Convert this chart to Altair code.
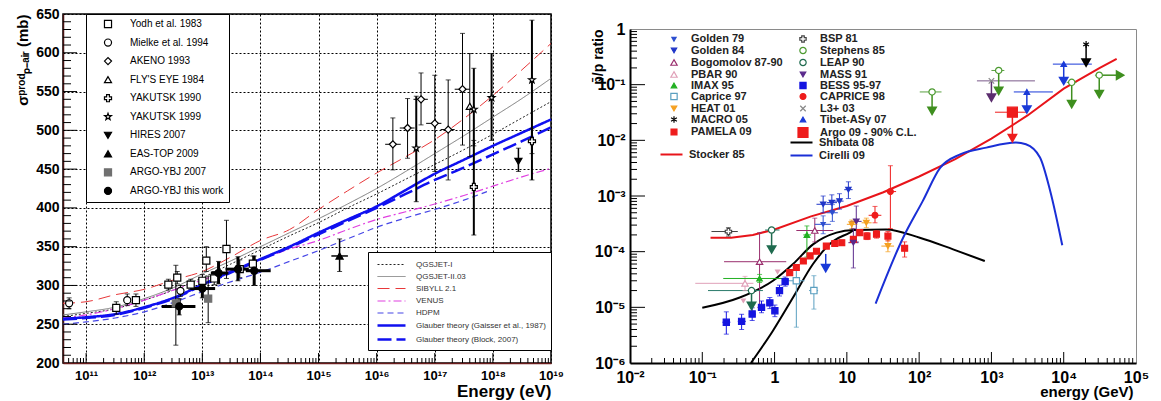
import altair as alt
import pandas as pd

FONT = "Liberation Sans"

# ======================= LEFT PANEL DATA =======================
L_experiments = ["Yodh et al. 1983", "Mielke et al. 1994", "AKENO 1993", "FLY'S EYE 1984",
                 "YAKUTSK 1990", "YAKUTSK 1999", "HIRES 2007", "EAS-TOP 2009",
                 "ARGO-YBJ 2007", "ARGO-YBJ this work"]
STAR = ("M0,-1L0.235,-0.324L0.951,-0.309L0.38,0.124L0.588,0.809L0,0.4L-0.588,0.809"
        "L-0.38,0.124L-0.951,-0.309L-0.235,-0.324Z")
L_shapes = ["square", "circle", "diamond", "triangle-up", "cross", STAR,
            "triangle-down", "triangle-up", "square", "circle"]
L_fills = ["white", "white", "white", "white", "white", "white",
           "black", "black", "#707070", "black"]
L_strokes = ["black", "black", "black", "black", "black", "black",
             "black", "black", "#707070", "black"]
L_errw = [1, 1, 1, 1, 2, 2, 1.5, 1.5, 1, 3]

yodh_E = [3.3e11, 7.2e11, 2.6e12, 3.7e12, 6.3e12, 1.0e13, 1.17e13, 1.6e13, 2.6e13, 4.4e13, 7.4e13]
yodh_s = [271, 281, 301, 310, 301, 306, 332, 309, 347, 321, 328]
yodh_lo = [263, 273, 294, 302, 295, 299, 318, 301, 309, 310, 318]
yodh_hi = [279, 289, 308, 318, 308, 314, 350, 318, 384, 333, 338]

mielke_E = [5.1e10, 5.1e11, 4.2e12]
mielke_s = [277, 281, 293]
mielke_lo = [270, 274, 286]
mielke_hi = [284, 289, 300]

akeno_E = [1.9e16, 3.4e16, 5.8e16, 1.0e17, 1.7e17, 3.0e17]
akeno_s = [482, 503, 540, 509, 501, 553]
akeno_lo = [449, 464, 507, 447, 436, 481]
akeno_hi = [516, 541, 574, 571, 565, 625]
akeno_Elo = [1.4e16, 2.5e16, 4.3e16, 7.1e16, 1.26e17, 2.2e17]
akeno_Ehi = [2.6e16, 4.5e16, 7.6e16, 1.3e17, 2.2e17, 4.0e17]

flyseye_E = [4.0e17]
flyseye_s = [531]
flyseye_lo = [466]
flyseye_hi = [599]

yak90_E = [4.7e17, 4.7e18]
yak90_s = [427, 486]
yak90_lo = [365, 470]
yak90_hi = [487, 502]

yak99_E = [4.8e16, 4.7e17, 9.5e17, 4.7e18]
yak99_s = [477, 527, 542, 565]
yak99_lo = [408, 480, 487, 436]
yak99_hi = [544, 580, 599, 642]

hires_E = [2.75e18]
hires_s = [460]
hires_lo = [447]
hires_hi = [477]

eastop_E = [2.3e15]
eastop_s = [338]
eastop_lo = [318]
eastop_hi = [360]
eastop_Elo = [1.66e15]
eastop_Ehi = [3.2e15]

argo07_E = [3.5e12, 1.26e13]
argo07_s = [277, 283]
argo07_lo = [223, 252]
argo07_hi = [326, 312]

argo_E = [4.0e12, 1.0e13, 1.9e13, 4.1e13, 7.8e13]
argo_s = [273, 296, 316, 321, 319]
argo_lo = [262, 284, 302, 306, 300]
argo_hi = [283, 308, 331, 337, 338]
argo_Elo = [2.0e12, 6.3e12, 1.4e13, 2.5e13, 5.6e13]
argo_Ehi = [7.6e12, 1.66e13, 2.8e13, 6.3e13, 1.5e14]

# model curves
L_models = ["QGSJET-I", "QGSJET-II.03", "SIBYLL 2.1", "VENUS", "HDPM",
            "Glauber theory (Gaisser et al., 1987)", "Glauber theory (Block, 2007)"]
L_model_colors = ["#222222", "#7a7a7a", "#e8383a", "#e040e0", "#4646e6", "#1010f0", "#1010f0"]
L_model_dash = [[2, 2], [1, 0], [12, 6], [8, 3, 2, 3], [6, 4], [1, 0], [14, 5]]
L_model_width = [1, 1, 1, 1.2, 1.2, 2.5, 2.5]

curve_E = [4.0e10, 1e11, 3.16e11, 1e12, 3.16e12, 1e13, 3.16e13, 1e14, 3.16e14,
           1e15, 3.16e15, 1e16, 3.16e16, 1e17, 3.16e17, 1e18, 3.16e18, 1e19]
qgsjet1_s = [260, 264, 270, 281, 294, 310, 328, 346, 364, 381, 400, 418, 437, 456, 475, 495, 516, 537]
qgsjet2_s = [262, 266, 272, 283, 297, 315, 332, 350, 368, 386, 405, 425, 447, 470, 493, 517, 541, 567]
sibyll_s = [277, 279, 288, 295, 307, 318, 337, 358, 372, 398, 422, 445, 466, 488, 515, 545, 578, 612]
venus_s = [258, 262, 270, 281, 294, 307, 320, 333, 347, 358, 372, 385, 395, 405, 416, 428, 440, 451]
hdpm_E = [4.0e10, 1e11, 3.16e11, 1e12, 3.16e12, 1e13, 3.16e13, 1e14, 3.16e14,
          1e15, 3.16e15, 1e16, 3.16e16, 1e17, 3.16e17, 7.9e17]
hdpm_s = [250, 253, 258, 266, 278, 292, 305, 317, 331, 345, 360, 375, 387, 398, 410, 421]
gaisser_s = [257, 259, 263, 272, 284, 301, 318, 334, 350, 368, 385, 402, 423, 444, 462, 480, 497, 514]
block_s = [256, 258, 262, 271, 283, 300, 317, 333, 349, 366, 383, 400, 418, 436, 452, 469, 486, 504]

xL_ticks = [1e11, 1e12, 1e13, 1e14, 1e15, 1e16, 1e17, 1e18, 1e19]
xL_labels = ["10¹¹", "10¹²", "10¹³", "10¹⁴", "10¹⁵", "10¹⁶", "10¹⁷", "10¹⁸", "10¹⁹"]
yL_ticks = [200, 250, 300, 350, 400, 450, 500, 550, 600, 650]

# ======================= RIGHT PANEL DATA =======================
# legend order: first column top-to-bottom, then second column
R_exps = ["Golden 79", "Golden 84", "Bogomolov 87-90", "PBAR 90", "IMAX 95", "Caprice 97",
          "HEAT 01", "MACRO 05", "PAMELA 09",
          "BSP 81", "Stephens 85", "LEAP 90", "MASS 91", "BESS 95-97", "CAPRICE 98",
          "L3+ 03", "Tibet-ASγ 07", "Argo 09 - 90% C.L."]
XMARK = "M-1,-1L1,1M-1,1L1,-1"
ASTER = "M0,-1L0,1M-0.87,-0.5L0.87,0.5M-0.87,0.5L0.87,-0.5"
R_shapes = ["triangle-down", "triangle-down", "triangle-up", "triangle-up", "triangle-up", "square",
            "triangle-down", ASTER, "square",
            "cross", "circle", "circle", "triangle-down", "square", "circle",
            XMARK, "triangle-up", "square"]
R_fills = ["#2d4fd0", "#1f35c8", "white", "white", "#22b022", "white",
           "#f5a020", "black", "#ee1c1c",
           "white", "white", "white", "#5a2a8c", "#1414e0", "#ee1c1c",
           "#888888", "#1a3ad8", "#ee1c1c"]
R_strokes = ["#2d4fd0", "#1f35c8", "#9a2f6e", "#e0a0b8", "#22b022", "#5a9fc0",
             "#f5a020", "black", "#ee1c1c",
             "#444444", "#4c9a30", "#1f6b4f", "#5a2a8c", "#1414e0", "#ee1c1c",
             "#888888", "#1a3ad8", "#ee1c1c"]
R_sizes = [18, 28, 40, 40, 30, 40, 30, 45, 35,
           40, 40, 40, 30, 38, 35, 30, 30, 100]

# (E [GeV], ratio, ratio_lo, ratio_hi, E_lo, E_hi)
golden79 = [(4.7, 3.1e-4, 2.1e-4, 4.4e-4, 3.6, 6.0), (6.3, 5.0e-4, 3.5e-4, 7.0e-4, 5.2, 7.5)]
bsp81 = [(0.23, 2.3e-4, 1.9e-4, 2.7e-4, 0.134, 0.31)]
golden84 = [(4.7, 7.1e-4, 5.0e-4, 1.0e-3, 3.8, 6.0), (6.2, 7.6e-4, 5.4e-4, 1.05e-3, 5.3, 7.3),
            (7.9, 8.1e-4, 5.8e-4, 1.1e-3, 6.8, 9.0), (10.5, 1.3e-3, 9.0e-4, 1.8e-3, 9.2, 12.0)]
stephens85 = [(151, 0.074, None, None, 102, 204), (1260, 0.18, None, None, 1000, 1510),
              (12900, 0.11, None, None, 11000, 15000), (31000, 0.148, None, None, 27000, 35000)]
bogomolov = [(0.62, 6.6e-5, 1.0e-5, 2.2e-4, 0.20, 1.45), (3.6, 2.4e-4, 1.5e-4, 4.0e-4, 2.0, 6.5)]
leap90 = [(0.91, 2.45e-4, None, None, 0.74, 1.17), (0.48, 2.0e-5, None, None, 0.12, 0.69)]
pbar90 = [(0.39, 2.7e-5, 2.0e-5, 3.6e-5, 0.08, 0.51)]
mass91 = [(13.5, 3.5e-4, 1.5e-4, 6.6e-4, 11, 16), (12.3, 1.45e-4, 5.1e-5, 2.6e-4, 10.5, 14.5)]
imax95 = [(0.62, 3.3e-5, 2.8e-5, 3.9e-5, 0.195, 1.32), (2.8, 2.0e-4, 8.0e-5, 2.9e-4, 2.5, 3.2)]
bess = [(0.215, 5.4e-6, 3.3e-6, 8.3e-6, 0.19, 0.245), (0.35, 5.6e-6, 4.0e-6, 7.5e-6, 0.31, 0.40),
        (0.49, 7.6e-6, 5.8e-6, 9.8e-6, 0.44, 0.55), (0.66, 1.0e-5, 8.0e-6, 1.3e-5, 0.60, 0.73),
        (0.86, 1.2e-5, 9.5e-6, 1.5e-5, 0.78, 0.95), (1.01, 8.7e-6, 6.8e-6, 1.1e-5, 0.95, 1.08),
        (1.17, 2.0e-5, 1.6e-5, 2.5e-5, 1.1, 1.25), (1.40, 2.9e-5, 2.4e-5, 3.5e-5, 1.3, 1.5)]
caprice97 = [(2.0, 3.0e-5, 4.4e-6, 5.9e-5, 1.5, 2.6), (3.5, 2.0e-5, 9.3e-6, 3.7e-5, 3.0, 4.0)]
caprice98 = [(24.5, 4.5e-4, 3.3e-4, 6.5e-4, 20, 30), (40, 1.2e-3, 2.6e-4, 3.5e-3, 33, 48)]
heat01 = [(11.7, 3.1e-4, 2.6e-4, 3.7e-4, 10, 14), (18.6, 3.3e-4, 2.7e-4, 4.0e-4, 16, 22),
          (37, 1.26e-4, 1.0e-4, 1.6e-4, 30, 45)]
l3 = [(1000, 0.117, None, None, 630, 4000)]
macro05 = [(20400, 0.53, None, None, None, None)]
tibet = [(10000, 0.234, None, None, 7080, 24500), (3090, 0.074, None, None, 2040, 7080)]
pamela = [(1.62, 4.2e-5, 3.8e-5, 4.7e-5, None, None), (2.0, 5.2e-5, 4.7e-5, 5.8e-5, None, None),
          (2.5, 6.8e-5, 6.2e-5, 7.5e-5, None, None), (3.1, 8.4e-5, 7.6e-5, 9.3e-5, None, None),
          (3.8, 1.02e-4, 9.3e-5, 1.12e-4, None, None), (5.2, 1.26e-4, 1.14e-4, 1.38e-4, None, None),
          (6.8, 1.40e-4, 1.27e-4, 1.54e-4, None, None), (8.5, 1.45e-4, 1.31e-4, 1.6e-4, None, None),
          (12.3, 1.66e-4, 1.5e-4, 1.83e-4, None, None), (15.1, 2.2e-4, 1.95e-4, 2.45e-4, None, None),
          (19, 1.9e-4, 1.65e-4, 2.2e-4, None, None), (25.7, 2.05e-4, 1.75e-4, 2.4e-4, None, None),
          (37, 1.9e-4, 1.55e-4, 2.3e-4, None, None), (63, 1.15e-4, 8.0e-5, 1.5e-4, None, None)]
argo09 = [(1950, 0.032, None, None, 1120, 3090)]

R_data = {"Golden 79": golden79, "BSP 81": bsp81, "Golden 84": golden84, "Stephens 85": stephens85,
          "Bogomolov 87-90": bogomolov, "LEAP 90": leap90, "PBAR 90": pbar90, "MASS 91": mass91,
          "IMAX 95": imax95, "BESS 95-97": bess, "Caprice 97": caprice97, "CAPRICE 98": caprice98,
          "HEAT 01": heat01, "L3+ 03": l3, "MACRO 05": macro05, "Tibet-ASγ 07": tibet,
          "PAMELA 09": pamela, "Argo 09 - 90% C.L.": argo09}
R_errcol = {"L3+ 03": "#7a5a8a", "LEAP 90": "#2a7a6a", "Stephens 85": "#5aa040"}

# upper-limit arrows: (E, from, to, colour)
arrows = [(0.91, 2.45e-4, 1.1e-4, "#1f6b4f"), (0.48, 2.0e-5, 1.07e-5, "#1f6b4f"),
          (151, 0.074, 0.034, "#3f8f1f"), (1260, 0.18, 0.078, "#3f8f1f"),
          (12900, 0.11, 0.045, "#3f8f1f"), (31000, 0.148, 0.068, "#3f8f1f"),
          (1000, 0.117, 0.059, "#5b2d6e"), (10000, 0.234, 0.117, "#1a3ad8"),
          (3090, 0.074, 0.036, "#1a3ad8"), (20400, 0.53, 0.25, "black"),
          (1950, 0.032, 0.011, "#ee1c1c"), (5.1, 9.1e-5, 5.1e-5, "#1a3ad8")]
arrow_right = [(31000, 60000, 0.148, "#3f8f1f")]
pbar_limits = [(1.1, 4.3e-5), (0.37, 1.3e-5)]

stocker_E = [0.13, 0.25, 0.5, 1, 3.2, 10, 32, 100, 316, 1000, 3160, 10000, 31600, 54000]
stocker_R = [1.78e-4, 1.78e-4, 2.0e-4, 2.5e-4, 4.3e-4, 6.6e-4, 1.17e-3, 2.24e-3, 4.6e-3,
             1.07e-2, 2.8e-2, 8.5e-2, 0.2, 0.29]
shibataA_E = [0.10, 0.33, 0.95, 1.8, 3.4, 7.2, 12.6, 35, 102, 295, 810]
shibataA_R = [9.8e-6, 1.5e-5, 3.0e-5, 6.0e-5, 1.35e-4, 2.2e-4, 2.45e-4, 2.5e-4, 1.78e-4, 1.1e-4, 6.8e-5]
shibataB_E = [0.47, 0.95, 1.8, 3.4, 6.5, 11, 12.6]
shibataB_R = [1.0e-6, 3.8e-6, 1.5e-5, 6.0e-5, 1.55e-4, 2.2e-4, 2.45e-4]
cirelli_E = [25, 60, 112, 195, 370, 850, 2190, 3000, 4700, 6500, 9550]
cirelli_R = [1.17e-5, 1.78e-4, 8.1e-4, 3.2e-3, 5.6e-3, 7.4e-3, 9.1e-3, 8.5e-3, 4.9e-3, 1.23e-3, 1.3e-4]

xR_ticks = [0.01, 0.1, 1, 10, 100, 1000, 10000, 100000]
xR_labels = ["10⁻²", "10⁻¹", "1", "10", "10²", "10³", "10⁴", "10⁵"]
yR_ticks = [1e-6, 1e-5, 1e-4, 1e-3, 1e-2, 1e-1, 1]
yR_labels = ["10⁻⁶", "10⁻⁵", "10⁻⁴", "10⁻³", "10⁻²", "10⁻¹", "1"]

LINE_SYM = "M-2,0L2,0"


def label_expr(values, labels):
    parts = [f"abs(datum.value - {v!r}) < {v!r}*1e-6 ? '{lab}'" for v, lab in zip(values, labels)]
    return " : ".join(parts) + " : ''"


# ======================= LEFT PANEL =======================
W_L, H_L = 488, 349
xL = alt.Scale(type="log", domain=[4.0e10, 1e19], nice=False)
yL = alt.Scale(domain=[200, 650], nice=False, zero=False)
axLx = alt.Axis(values=xL_ticks, labelExpr=label_expr(xL_ticks, xL_labels), ticks=False,
                grid=True, gridColor="black", gridDash=[2, 2], gridWidth=1,
                domainColor="#6b1c1c", domainWidth=1.5, labelFont=FONT, labelFontWeight="bold",
                labelFontSize=13, labelColor="black", labelPadding=6, labelFlush=False,
                labelOverlap=False, title="Energy (eV)", titleFont=FONT, titleFontSize=17,
                titleFontWeight="bold", titleColor="black", titleAlign="right",
                titleBaseline="alphabetic", titleX=W_L, titleY=33)
axLy = alt.Axis(values=yL_ticks, ticks=False, grid=True, gridColor="black", gridDash=[2, 2],
                gridWidth=1, domainColor="#4a1414", domainWidth=1.5, labelFont=FONT,
                labelFontWeight="bold", labelFontSize=14, labelColor="black", labelPadding=4,
                labelOverlap=False, title="σᵖʳᵒᵈₚ₋ₐᵢᵣ (mb)", titleFont=FONT, titleFontSize=15,
                titleFontWeight="bold", titleColor="black", titleAlign="right",
                titleBaseline="bottom", titleX=-33, titleY=0)


def XL(f):
    return alt.X(f, type="quantitative", scale=xL, axis=axLx)


def YL(f):
    return alt.Y(f, type="quantitative", scale=yL, axis=axLy)


L_exp_series = [
    ("Yodh et al. 1983", yodh_E, yodh_s, yodh_lo, yodh_hi, None, None),
    ("Mielke et al. 1994", mielke_E, mielke_s, mielke_lo, mielke_hi, None, None),
    ("AKENO 1993", akeno_E, akeno_s, akeno_lo, akeno_hi, akeno_Elo, akeno_Ehi),
    ("FLY'S EYE 1984", flyseye_E, flyseye_s, flyseye_lo, flyseye_hi, None, None),
    ("YAKUTSK 1990", yak90_E, yak90_s, yak90_lo, yak90_hi, None, None),
    ("YAKUTSK 1999", yak99_E, yak99_s, yak99_lo, yak99_hi, None, None),
    ("HIRES 2007", hires_E, hires_s, hires_lo, hires_hi, None, None),
    ("EAS-TOP 2009", eastop_E, eastop_s, eastop_lo, eastop_hi, eastop_Elo, eastop_Ehi),
    ("ARGO-YBJ 2007", argo07_E, argo07_s, argo07_lo, argo07_hi, None, None),
    ("ARGO-YBJ this work", argo_E, argo_s, argo_lo, argo_hi, argo_Elo, argo_Ehi),
]
ptsL, vL, hL, capL = [], [], [], []
for name, E, s, lo, hi, Elo, Ehi in L_exp_series:
    i = L_experiments.index(name)
    for k in range(len(E)):
        ptsL.append({"exp": name, "E": E[k], "s": s[k]})
        vL.append({"E": E[k], "lo": lo[k], "hi": hi[k], "ew": L_errw[i]})
        capL.append({"E": E[k], "v": lo[k]})
        capL.append({"E": E[k], "v": hi[k]})
        if Elo is not None:
            hL.append({"Elo": Elo[k], "Ehi": Ehi[k], "s": s[k], "ew": L_errw[i]})

curL = []
for name, E, s in [("QGSJET-I", curve_E, qgsjet1_s), ("QGSJET-II.03", curve_E, qgsjet2_s),
                   ("SIBYLL 2.1", curve_E, sibyll_s), ("VENUS", curve_E, venus_s),
                   ("HDPM", hdpm_E, hdpm_s),
                   ("Glauber theory (Gaisser et al., 1987)", curve_E, gaisser_s),
                   ("Glauber theory (Block, 2007)", curve_E, block_s)]:
    for e, v in zip(E, s):
        curL.append({"model": name, "E": e, "s": v})

legL_pts = alt.Legend(title=None, orient="none", legendX=23, legendY=0, strokeColor="black",
                      fillColor="white", padding=5, symbolOffset=12, labelOffset=17, rowPadding=6.55,
                      labelFont=FONT, labelFontSize=10, labelColor="black", symbolSize=50,
                      symbolStrokeWidth=1.2, labelLimit=300)
legL_lines = alt.Legend(title=None, orient="none", legendX=305, legendY=238, strokeColor="black",
                        fillColor="white", padding=5, symbolType=LINE_SYM, symbolSize=196,
                        symbolOffset=10, labelOffset=16, rowPadding=-0.2, labelFont=FONT,
                        labelFontSize=8, labelColor="#333333", labelLimit=300)

curvesL = alt.Chart(pd.DataFrame(curL)).mark_line(interpolate="monotone").encode(
    x=XL("E"), y=YL("s"),
    color=alt.Color("model:N", scale=alt.Scale(domain=L_models, range=L_model_colors), legend=legL_lines),
    strokeDash=alt.StrokeDash("model:N", scale=alt.Scale(domain=L_models, range=L_model_dash), legend=legL_lines),
    strokeWidth=alt.StrokeWidth("model:N", scale=alt.Scale(type="ordinal", domain=L_models, range=L_model_width), legend=legL_lines),
)
errVL = alt.Chart(pd.DataFrame(vL)).mark_rule(color="black").encode(
    x=XL("E"), y=YL("lo"), y2=alt.Y2("hi"), strokeWidth=alt.StrokeWidth("ew:Q", scale=None))
errHL = alt.Chart(pd.DataFrame(hL)).mark_rule(color="black").encode(
    x=XL("Elo"), x2=alt.X2("Ehi"), y=YL("s"), strokeWidth=alt.StrokeWidth("ew:Q", scale=None))
capsL = alt.Chart(pd.DataFrame(capL)).mark_tick(orient="horizontal", size=5, thickness=1, color="black").encode(
    x=XL("E"), y=YL("v"))
pointsL = alt.Chart(pd.DataFrame(ptsL)).mark_point(filled=True, size=50, strokeWidth=1.2, opacity=1).encode(
    x=XL("E"), y=YL("s"),
    shape=alt.Shape("exp:N", scale=alt.Scale(domain=L_experiments, range=L_shapes), legend=legL_pts),
    fill=alt.Fill("exp:N", scale=alt.Scale(domain=L_experiments, range=L_fills), legend=legL_pts),
    stroke=alt.Stroke("exp:N", scale=alt.Scale(domain=L_experiments, range=L_strokes), legend=legL_pts),
)

yL_major = [250, 300, 350, 400, 450, 500, 550, 600]
yL_minor = [v for v in range(210, 650, 10) if v % 50 != 0]
xL_major = [1e11, 1e12, 1e13, 1e14, 1e15, 1e16, 1e17, 1e18]
xL_minor = [k * 10.0 ** d for d in range(10, 19) for k in range(2, 10) if 4.0e10 < k * 10.0 ** d < 1e19]

tL1 = alt.Chart(pd.DataFrame({"v": yL_major})).mark_rule(color="black").encode(
    y=YL("v"), x=alt.value(0), x2=alt.value(14))
tL2 = alt.Chart(pd.DataFrame({"v": yL_minor})).mark_rule(color="black").encode(
    y=YL("v"), x=alt.value(0), x2=alt.value(8))
tL3 = alt.Chart(pd.DataFrame({"v": xL_major})).mark_rule(color="black").encode(
    x=XL("v"), y=alt.value(H_L), y2=alt.value(H_L - 10))
tL4 = alt.Chart(pd.DataFrame({"v": xL_minor})).mark_rule(color="black").encode(
    x=XL("v"), y=alt.value(H_L), y2=alt.value(H_L - 5))

left = alt.layer(curvesL, errVL, errHL, capsL, pointsL, tL1, tL2, tL3, tL4).properties(
    width=W_L, height=H_L, view=alt.ViewBackground(stroke="black", strokeWidth=1.5))

# ======================= RIGHT PANEL =======================
W_R, H_R = 506, 334
xR = alt.Scale(type="log", domain=[0.01, 1e5], nice=False)
yR = alt.Scale(type="log", domain=[1e-6, 1], nice=False)
axRx = alt.Axis(values=xR_ticks, labelExpr=label_expr(xR_ticks, xR_labels), ticks=False, grid=False,
                domainColor="black", domainWidth=2, labelFont=FONT, labelFontWeight="bold",
                labelFontSize=16, labelColor="black", labelPadding=6, labelFlush=False,
                labelOverlap=False, title="energy (GeV)", titleFont=FONT, titleFontSize=15,
                titleFontWeight="bold", titleColor="black", titleAlign="right",
                titleBaseline="alphabetic", titleX=W_R - 3, titleY=33)
axRy = alt.Axis(values=yR_ticks, labelExpr=label_expr(yR_ticks, yR_labels), ticks=False, grid=False,
                domainColor="black", domainWidth=2, labelFont=FONT, labelFontWeight="bold",
                labelFontSize=16, labelColor="black", labelPadding=5, labelFlush=False,
                labelOverlap=False, title="p̄/p ratio", titleFont=FONT, titleFontSize=14,
                titleFontWeight="bold", titleColor="black", titleAlign="right",
                titleBaseline="bottom", titleX=-25, titleY=0)


def XR(f):
    return alt.X(f, type="quantitative", scale=xR, axis=axRx)


def YR(f):
    return alt.Y(f, type="quantitative", scale=yR, axis=axRy)


ptsR, vR, hR, capR = [], [], [], []
for name in R_exps:
    i = R_exps.index(name)
    col = R_errcol.get(name, R_strokes[i])
    for (E, R, lo, hi, Elo, Ehi) in R_data[name]:
        ptsR.append({"exp": name, "E": E, "R": R})
        if lo is not None:
            vR.append({"E": E, "lo": lo, "hi": hi, "col": col})
            capR.append({"E": E, "v": lo, "col": col})
            capR.append({"E": E, "v": hi, "col": col})
        if Elo is not None:
            hR.append({"Elo": Elo, "Ehi": Ehi, "R": R, "col": col})

arrR = pd.DataFrame([{"E": a[0], "R0": a[1], "R1": a[2], "col": a[3]} for a in arrows])
arrRt = pd.DataFrame([{"E0": a[0], "E1": a[1], "R": a[2], "col": a[3]} for a in arrow_right])
pbarL = pd.DataFrame([{"E": a[0], "R": a[1]} for a in pbar_limits])

legR_pts = alt.Legend(title=None, orient="none", legendX=38, legendY=19, columns=2, columnPadding=12,
                      rowPadding=-1.5, labelFont=FONT, labelFontSize=11, labelFontWeight="bold",
                      labelColor="#222222", labelOffset=11, symbolStrokeWidth=1.2, labelLimit=300)
legR_stk = alt.Legend(title=None, orient="none", legendX=26, legendY=119, symbolType=LINE_SYM,
                      symbolSize=121, symbolOffset=9, symbolStrokeWidth=2, labelOffset=11,
                      labelFont=FONT, labelFontSize=11, labelFontWeight="bold", labelColor="#222222")
legR_th = alt.Legend(title=None, orient="none", legendX=155, legendY=107, symbolType=LINE_SYM,
                     symbolSize=121, symbolOffset=10, symbolStrokeWidth=2, labelOffset=11, rowPadding=1,
                     labelFont=FONT, labelFontSize=11, labelFontWeight="bold", labelColor="#222222")

stocker = alt.Chart(pd.DataFrame({"E": stocker_E, "R": stocker_R, "m": "Stocker 85"})).mark_line(
    strokeWidth=2).encode(
    x=XR("E"), y=YR("R"),
    color=alt.Color("m:N", scale=alt.Scale(domain=["Stocker 85"], range=["#e8141a"]), legend=legR_stk))
theo_rows = ([{"E": e, "R": r, "m2": "Shibata 08", "br": "a"} for e, r in zip(shibataA_E, shibataA_R)]
             + [{"E": e, "R": r, "m2": "Shibata 08", "br": "b"} for e, r in zip(shibataB_E, shibataB_R)]
             + [{"E": e, "R": r, "m2": "Cirelli 09", "br": "c"} for e, r in zip(cirelli_E, cirelli_R)])
theory = alt.Chart(pd.DataFrame(theo_rows)).mark_line(strokeWidth=2, interpolate="monotone").encode(
    x=XR("E"), y=YR("R"), detail="br:N",
    color=alt.Color("m2:N", scale=alt.Scale(domain=["Shibata 08", "Cirelli 09"], range=["black", "#1a2fd6"]),
                    legend=legR_th))
errVR = alt.Chart(pd.DataFrame(vR)).mark_rule(strokeWidth=1).encode(
    x=XR("E"), y=YR("lo"), y2=alt.Y2("hi"), stroke=alt.Stroke("col:N", scale=None))
errHR = alt.Chart(pd.DataFrame(hR)).mark_rule(strokeWidth=1).encode(
    x=XR("Elo"), x2=alt.X2("Ehi"), y=YR("R"), stroke=alt.Stroke("col:N", scale=None))
capsR = alt.Chart(pd.DataFrame(capR)).mark_tick(orient="horizontal", size=5, thickness=1).encode(
    x=XR("E"), y=YR("v"), color=alt.Color("col:N", scale=None))
arrRule = alt.Chart(arrR).mark_rule(strokeWidth=1.5).encode(
    x=XR("E"), y=YR("R0"), y2=alt.Y2("R1"), stroke=alt.Stroke("col:N", scale=None))
arrHead = alt.Chart(arrR).mark_point(shape="triangle-down", filled=True, size=55, opacity=1).encode(
    x=XR("E"), y=YR("R1"), fill=alt.Fill("col:N", scale=None), stroke=alt.Stroke("col:N", scale=None))
arrRRule = alt.Chart(arrRt).mark_rule(strokeWidth=1.5).encode(
    x=XR("E0"), x2=alt.X2("E1"), y=YR("R"), stroke=alt.Stroke("col:N", scale=None))
arrRHead = alt.Chart(arrRt).mark_point(shape="triangle-right", filled=True, size=55, opacity=1).encode(
    x=XR("E1"), y=YR("R"), fill=alt.Fill("col:N", scale=None), stroke=alt.Stroke("col:N", scale=None))
pbarMk = alt.Chart(pbarL).mark_point(shape="triangle-down", filled=True, size=35, opacity=1,
                                     color="#e0a0b8").encode(x=XR("E"), y=YR("R"))
pointsR = alt.Chart(pd.DataFrame(ptsR)).mark_point(filled=True, strokeWidth=1.2, opacity=1).encode(
    x=XR("E"), y=YR("R"),
    shape=alt.Shape("exp:N", scale=alt.Scale(domain=R_exps, range=R_shapes), legend=legR_pts),
    fill=alt.Fill("exp:N", scale=alt.Scale(domain=R_exps, range=R_fills), legend=legR_pts),
    stroke=alt.Stroke("exp:N", scale=alt.Scale(domain=R_exps, range=R_strokes), legend=legR_pts),
    size=alt.Size("exp:N", scale=alt.Scale(type="ordinal", domain=R_exps, range=R_sizes), legend=legR_pts),
)

yR_major = [1e-5, 1e-4, 1e-3, 1e-2, 1e-1]
yR_minor = [k * 10.0 ** d for d in range(-6, 0) for k in range(2, 10)]
xR_major = [0.1, 1, 10, 100, 1000, 10000]
xR_minor = [k * 10.0 ** d for d in range(-2, 5) for k in range(2, 10)]

tR1 = alt.Chart(pd.DataFrame({"v": yR_major})).mark_rule(color="black").encode(
    y=YR("v"), x=alt.value(0), x2=alt.value(15))
tR2 = alt.Chart(pd.DataFrame({"v": yR_minor})).mark_rule(color="black").encode(
    y=YR("v"), x=alt.value(0), x2=alt.value(7))
tR3 = alt.Chart(pd.DataFrame({"v": xR_major})).mark_rule(color="black").encode(
    x=XR("v"), y=alt.value(H_R), y2=alt.value(H_R - 11))
tR4 = alt.Chart(pd.DataFrame({"v": xR_minor})).mark_rule(color="black").encode(
    x=XR("v"), y=alt.value(H_R), y2=alt.value(H_R - 5))

right = alt.layer(stocker, theory, errVR, errHR, capsR, arrRule, arrRRule, pbarMk, pointsR,
                  arrHead, arrRHead, tR1, tR2, tR3, tR4).resolve_scale(color="independent").properties(
    width=W_R, height=H_R, view=alt.ViewBackground(stroke="#8a8a8a", strokeWidth=1))

spacer = alt.Chart(pd.DataFrame({"a": []})).mark_point().properties(
    width=W_R, height=5, view=alt.ViewBackground(stroke="transparent"))

right_col = alt.vconcat(spacer, right, spacing=0)

chart = alt.hconcat(left, right_col, spacing=25).resolve_scale(
    x="independent", y="independent", color="independent", shape="independent",
    fill="independent", stroke="independent", strokeDash="independent",
    strokeWidth="independent", size="independent").properties(
    padding={"left": 6, "top": -2, "right": 0, "bottom": 0}).configure(background="white")

chart.save("out.html", embed_options={"renderer": "svg", "actions": False})
